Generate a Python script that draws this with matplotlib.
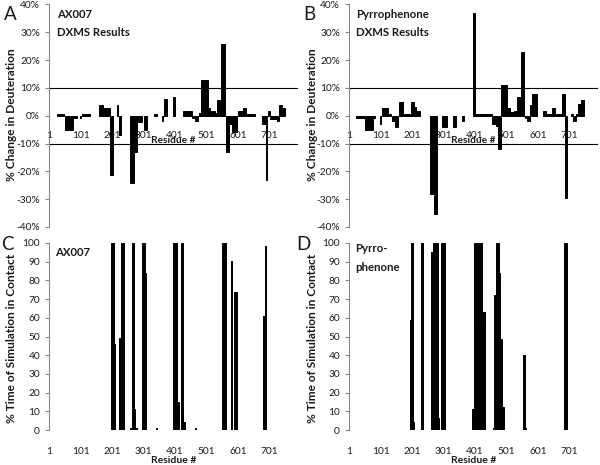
import matplotlib.pyplot as plt
from matplotlib.ticker import FuncFormatter
from matplotlib.transforms import blended_transform_factory

plt.rcParams['font.family'] = ['Lato', 'DejaVu Sans']

# DXMS % change in deuteration, one block per peptide: first residue, last residue, value (%)
a_start = [26, 51, 77, 98, 107, 160, 172, 196, 216, 223, 258, 271, 281, 303, 334, 359, 366, 395,
           425, 454, 465, 478, 484, 504, 512, 528, 535, 547, 561, 571, 582, 600, 616, 626, 676, 690,
           695, 703, 724, 732, 740]
a_end = [49, 77, 91, 104, 130, 172, 196, 204, 220, 231, 271, 281, 297, 313, 343, 364, 375, 401,
         454, 465, 475, 484, 504, 512, 528, 535, 547, 559, 571, 581, 597, 616, 626, 653, 690, 694,
         703, 724, 732, 740, 750]
a_val = [0.8, -5.1, -0.8, -0.8, 0.7, 3.7, 2.8, -21.3, 4.0, -7.0, -24.2, -13.2, -2.4, -5.2, 0.7,
         -1.8, 5.9, 6.9, 1.7, -0.8, -1.8, 0.9, 12.9, 2.8, 1.8, 1.0, 5.8, 25.9, -13.0, -3.0, -6.0,
         1.6, 2.8, 0.8, -2.8, -23.0, 1.8, -1.2, -2.0, 3.7, 2.8]

b_start = [24, 51, 77, 98, 107, 125, 139, 146, 159, 172, 199, 207, 215, 257, 271, 296, 331, 358,
           394, 400, 454, 468, 475, 482, 501, 512, 525, 533, 546, 560, 567, 576, 582, 616, 626, 644,
           655, 676, 687, 706, 713, 720, 729, 737]
b_end = [51, 77, 82, 104, 125, 133, 146, 155, 172, 199, 207, 215, 225, 271, 281, 313, 342, 366,
         400, 454, 468, 475, 482, 501, 512, 525, 533, 546, 556, 567, 576, 582, 599, 626, 644, 655,
         676, 687, 694, 713, 720, 729, 737, 747]
b_val = [-0.8, -5.2, -0.8, -3.0, 2.8, 0.8, -1.8, -4.0, 4.8, 0.8, 4.8, 3.0, 1.8, -28.3, -35.2, -4.0,
         -4.0, -2.0, 37.1, 0.6, -2.8, -3.6, -12.0, 11.2, 2.8, 1.2, 1.8, 6.9, 22.9, -0.8, -2.0, 4.0,
         7.8, 1.8, 0.8, 2.8, 0.8, 7.8, -29.5, 0.8, -1.8, 0.8, 4.2, 5.7]

# % time of simulation in contact, per residue range
c_start = [198, 207, 224, 230, 258, 265, 270, 274, 297, 306, 342, 394, 406, 419, 427, 464, 549,
           577, 589, 681, 686]
c_end = [207, 211, 230, 239, 264, 270, 274, 279, 306, 310, 345, 406, 413, 427, 433, 467, 563,
         582, 596, 686, 690]
c_val = [100, 46, 49, 100, 1, 100, 11, 1, 100, 84, 1, 100, 15, 100, 4.5, 1, 100,
         90.5, 74, 61, 98.5]

d_start = [195, 199, 203, 230, 261, 269, 282, 293, 390, 398, 412, 418, 423, 459, 462, 468, 477,
           481, 488, 552, 558, 684]
d_end = [199, 203, 206, 237, 269, 282, 285, 304, 398, 412, 418, 423, 431, 462, 468, 477, 481,
         488, 494, 558, 562, 692]
d_val = [59, 100, 4.5, 100, 95, 100, 6.4, 100, 11, 100, 56, 100, 63, 1, 72, 100, 84,
         48.5, 12.5, 40, 1, 100]

res_ticks = [1, 101, 201, 301, 401, 501, 601, 701]
grey = '#868686'
txt = '#1a1a1a'

fig = plt.figure(figsize=(6, 4.65), dpi=100)

W = 249 / 600
top_axes = [fig.add_axes([49 / 600, 1 - 227 / 465, W, 222.5 / 465]),
            fig.add_axes([349 / 600, 1 - 227 / 465, W, 222.5 / 465])]
bot_axes = [fig.add_axes([49 / 600, 1 - 430 / 465, W, 187 / 465]),
            fig.add_axes([349 / 600, 1 - 430 / 465, W, 187 / 465])]


def draw_bars(ax, s, e, v):
    widths = [b - a for a, b in zip(s, e)]
    ax.bar(s, v, width=widths, align='edge', color='black', edgecolor='black', linewidth=0.7)


def style(ax):
    ax.set_xlim(1, 791)
    ax.set_xticks(res_ticks)
    ax.set_xticklabels([str(t) for t in res_ticks])
    for side in ['top', 'right']:
        ax.spines[side].set_visible(False)
    ax.spines['bottom'].set_color('none')
    ax.spines['left'].set_color(grey)
    ax.tick_params(axis='x', length=0, labelsize=7.3, colors=txt)
    ax.tick_params(axis='y', length=3, width=0.8, color=grey, labelsize=7.3, labelcolor=txt)


for ax, (s, e, v) in zip(top_axes, [(a_start, a_end, a_val), (b_start, b_end, b_val)]):
    draw_bars(ax, s, e, v)
    style(ax)
    ax.set_ylim(-40, 40)
    ax.set_yticks(range(-40, 41, 10))
    ax.yaxis.set_major_formatter(FuncFormatter(lambda y, p: '%d%%' % y))
    ax.spines['bottom'].set_position(('data', 0))
    ax.tick_params(axis='x', pad=11)
    ax.axhline(10, color='black', lw=0.8)
    ax.axhline(-10, color='black', lw=0.8)
    ax.text(0.5, -8.8, 'Residue #', transform=blended_transform_factory(ax.transAxes, ax.transData),
            ha='center', va='center', fontsize=7.3, fontweight='bold', color=txt)

for ax, (s, e, v) in zip(bot_axes, [(c_start, c_end, c_val), (d_start, d_end, d_val)]):
    draw_bars(ax, s, e, v)
    style(ax)
    ax.set_ylim(0, 100)
    ax.set_yticks(range(0, 101, 10))
    ax.tick_params(axis='x', pad=12)
    ax.text(0.5, -0.165, 'Residue #', transform=ax.transAxes,
            ha='center', va='center', fontsize=7.5, fontweight='bold', color=txt)

# panel titles
ft = dict(fontsize=8.2, fontweight='bold', va='center', color=txt)
fig.text(57 / 600, 1 - 15 / 465, 'AX007', **ft)
fig.text(57 / 600, 1 - 32 / 465, 'DXMS Results', **ft)
fig.text(356 / 600, 1 - 15 / 465, 'Pyrrophenone', **ft)
fig.text(356 / 600, 1 - 32 / 465, 'DXMS Results', **ft)
fig.text(55 / 600, 1 - 252 / 465, 'AX007', **ft)
fig.text(355 / 600, 1 - 248 / 465, 'Pyrro-', **ft)
fig.text(355 / 600, 1 - 267 / 465, 'phenone', **ft)

# panel letters
for lab, x, y in [('A', 10, 15), ('B', 309, 15), ('C', 7, 244), ('D', 303, 244)]:
    fig.text(x / 600, 1 - y / 465, lab, fontsize=13.5, ha='center', va='center', color=txt)

# y axis titles
for x in [12, 312]:
    fig.text(x / 600, 1 - 115 / 465, '% Change in Deuteration', rotation=90, fontsize=8.6,
             fontweight='bold', ha='center', va='center', color=txt)
    fig.text(x / 600, 1 - 338 / 465, '% Time of Simulation in Contact', rotation=90, fontsize=8.6,
             fontweight='bold', ha='center', va='center', color=txt)

fig.savefig('out.png', dpi=100)
